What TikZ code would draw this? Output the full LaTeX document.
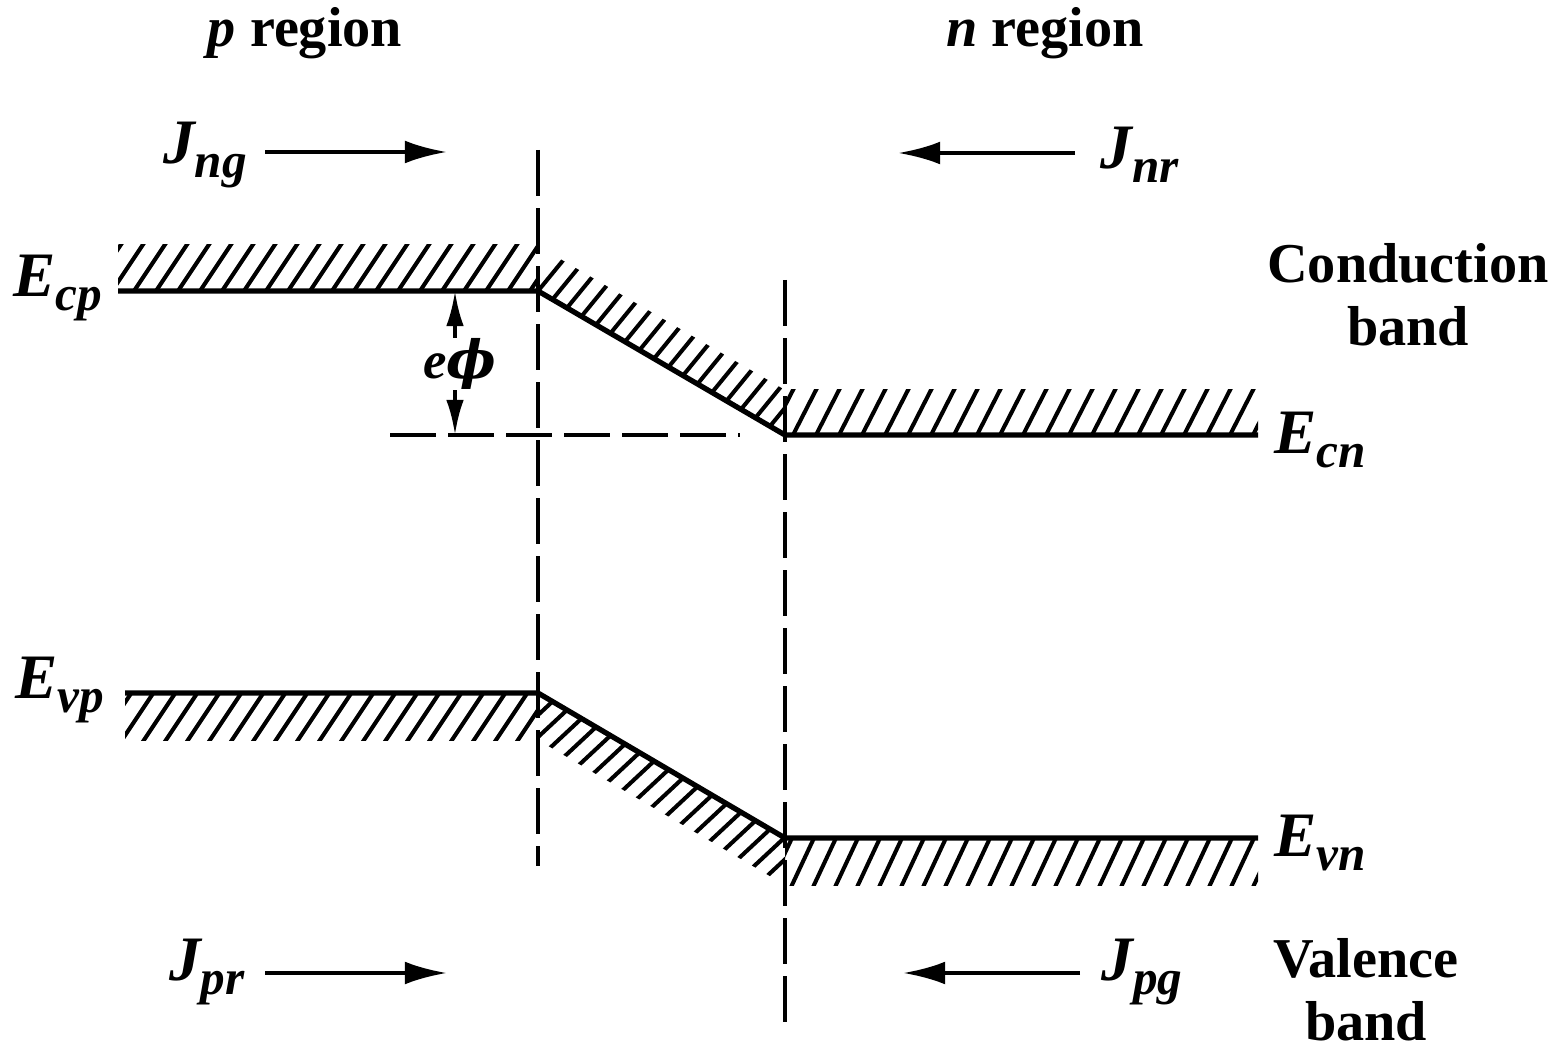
\documentclass[tikz,border=0pt]{standalone}
\usepackage{fontspec}
\setmainfont{Liberation Serif}
\newfontfamily\phifont{DejaVu Serif}
\usetikzlibrary{arrows.meta}
\newcommand{\sublab}[2]{#1\raisebox{-0.5ex}{\fontsize{14}{14}\selectfont #2}}
\begin{document}
\begin{tikzpicture}[x=0.01cm,y=-0.01cm,
  band/.style={line width=1.5pt},
  hatchline/.style={line width=1.15pt},
  guide/.style={line width=1.1pt, dash pattern=on 13pt off 3.5pt},
  flow/.style={line width=1.2pt,-{Latex[length=12pt,width=6.5pt]}},
  lab/.style={font=\fontsize{18}{18}\selectfont\bfseries\itshape, inner sep=1pt},
  txt/.style={font=\fontsize{16}{18}\selectfont\bfseries, align=center, inner sep=1pt}]
\useasboundingbox (0,0) rectangle (1557,1049);
% hatching conduction band
\begin{scope}
\clip (118,291) -- (538,291) -- (538,245) -- (118,245) -- cycle;
\foreach \x in {90,112,...,570} \draw[hatchline] (\x,291) ++(-30,45) -- ++(90,-135);
\end{scope}
\begin{scope}
\clip (538,291) -- (785,435) -- (785,390) -- (538,246) -- cycle;
\foreach \i in {0,...,18} {
  \pgfmathsetmacro\xx{538+14.5*\i}
  \pgfmathsetmacro\yy{291+14.5*\i/247*144}
  \draw[hatchline] (\xx,\yy) ++(-27,33) -- ++(81,-99);}
\end{scope}
\begin{scope}
\clip (785,435) -- (1258,435) -- (1258,390) -- (785,390) -- cycle;
\foreach \x in {770,793,...,1290} \draw[hatchline] (\x,435) ++(-23,45) -- ++(69,-135);
\end{scope}
% hatching valence band
\begin{scope}
\clip (125,693) -- (538,693) -- (538,740) -- (125,740) -- cycle;
\foreach \x in {100,122,...,570} \draw[hatchline] (\x,740) ++(-30,45) -- ++(90,-135);
\end{scope}
\begin{scope}
\clip (538,693) -- (785,838) -- (785,885) -- (538,740) -- cycle;
\foreach \i in {0,...,18} {
  \pgfmathsetmacro\xx{538+14.5*\i}
  \pgfmathsetmacro\yy{693+14.5*\i/247*145}
  \draw[hatchline] (\xx,\yy) ++(-60,56) -- ++(90,-84);}
\end{scope}
\begin{scope}
\clip (785,838) -- (1258,838) -- (1258,885) -- (785,885) -- cycle;
\foreach \x in {770,792,...,1290} \draw[hatchline] (\x,885) ++(-22,47) -- ++(66,-141);
\end{scope}
% band edges
\coordinate (cp0) at (118,291); \coordinate (cp1) at (538,291);
\coordinate (cn0) at (785,435); \coordinate (cn1) at (1258,435);
\coordinate (vp0) at (125,693); \coordinate (vp1) at (538,693);
\coordinate (vn0) at (785,838); \coordinate (vn1) at (1258,838);
\draw[band] (cp0) -- (cp1) -- (cn0) -- (cn1);
\draw[band] (vp0) -- (vp1) -- (vn0) -- (vn1);
% guides
\coordinate (g1a) at (538,150); \coordinate (g1b) at (538,866);
\coordinate (g2a) at (785,280); \coordinate (g2b) at (785,1022);
\coordinate (h0) at (390,435); \coordinate (h1) at (740,435);
\draw[guide] (g1a) -- (g1b);
\draw[guide] (g2a) -- (g2b);
\draw[guide] (h0) -- (h1);
% e phi
\coordinate (ea) at (455,291); \coordinate (eb) at (455,435);
\draw[line width=1.1pt,{Latex[length=10pt,width=5pt]}-{Latex[length=10pt,width=5pt]}] (ea) -- (eb);
\node[fill=white, inner sep=0pt, font=\fontsize{15}{15}\selectfont\bfseries\itshape] (ephi) at (460,364) {e{\phifont\itshape ϕ}};
% labels
\node[txt] (preg) at (305,33) {\textit{p} region};
\node[txt] (nreg) at (1045,33) {\textit{n} region};
\node[lab] (Ecp) at (58,288) {\sublab{E}{cp}};
\node[lab] (Evp) at (60,690) {\sublab{E}{vp}};
\node[lab] (Ecn) at (1320,440) {\sublab{E}{cn}};
\node[lab] (Evn) at (1320,843) {\sublab{E}{vn}};
\node[txt] (cb) at (1408,295) {Conduction\\band};
\node[txt] (vb) at (1366,990) {Valence\\band};
\node[lab] (Jng) at (205,155) {\sublab{J}{ng}};
\node[lab] (Jnr) at (1140,155) {\sublab{J}{nr}};
\node[lab] (Jpr) at (207,972) {\sublab{J}{pr}};
\node[lab] (Jpg) at (1142,972) {\sublab{J}{pg}};
\coordinate (a1s) at (265,152); \coordinate (a1e) at (447,152);
\coordinate (a2s) at (1075,153); \coordinate (a2e) at (898,153);
\coordinate (a3s) at (265,973); \coordinate (a3e) at (447,973);
\coordinate (a4s) at (1080,973); \coordinate (a4e) at (903,973);
\draw[flow] (a1s) -- (a1e);
\draw[flow] (a2s) -- (a2e);
\draw[flow] (a3s) -- (a3e);
\draw[flow] (a4s) -- (a4e);
\end{tikzpicture}
\end{document}
